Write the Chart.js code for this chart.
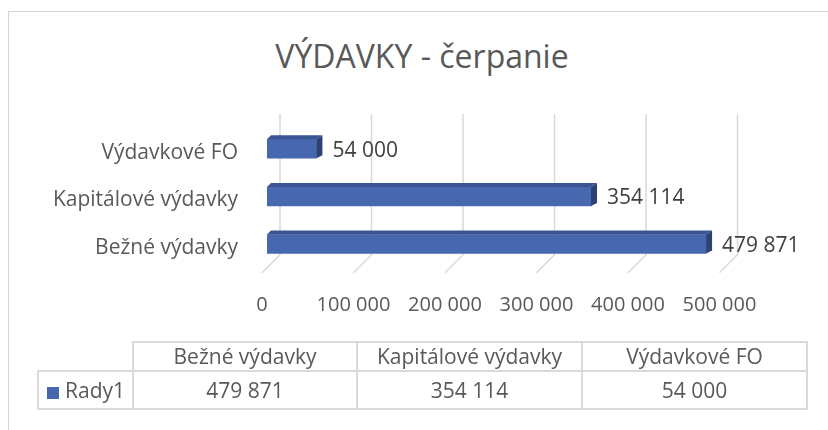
<!DOCTYPE html>
<html>
<head>
<meta charset="utf-8">
<script src="https://cdn.jsdelivr.net/npm/chart.js@4"></script>
<style>
  body { margin: 0; width: 828px; height: 430px; overflow: hidden; position: relative; background: #fff; font-family: "Open Sans", sans-serif; }
  #frame { position: absolute; left: 8px; top: 11px; width: 840px; height: 440px; border: 1px solid #d4d4d4; }
  #title { position: absolute; left: 0; width: 844px; top: 34px; text-align: center; font-size: 32px; color: #595959; line-height: 44px; }
  #chart { position: absolute; left: 0; top: 0; }
  .cell { position: absolute; box-sizing: border-box; border: 2px solid #d9d9d9; text-align: center; color: #595959; font-size: 21px; white-space: nowrap; }
  .key { display: inline-block; width: 12px; height: 12px; background: #4767AF; margin-right: 6px; vertical-align: -1px; }
</style>
</head>
<body>
<div id="frame"></div>
<div id="title"></div>
<canvas id="chart" width="828" height="430"></canvas>
<div id="table"></div>
<script>
// údaje grafu
const chartTitle = 'VÝDAVKY - čerpanie';
const categories = ['Bežné výdavky', 'Kapitálové výdavky', 'Výdavkové FO'];
const seriesName = 'Rady1';
const values = [479871, 354114, 54000];
const xTicks = [0, 100000, 200000, 300000, 400000, 500000];

const fmt = v => String(v).replace(/\B(?=(\d{3})+(?!\d))/g, ' ');

document.getElementById('title').innerText = chartTitle;

// farby
const frontColor = '#4767AF';
const topColor = '#3A5594';
const sideColor = '#2D4273';
const gridColor = '#d9d9d9';
const textColor = '#595959';

// mriezka s "podlahou" (3D)
const gridPlugin = {
    id: 'grid3d',
    beforeDatasetsDraw(chart) {
        const { ctx, chartArea, scales } = chart;
        ctx.save();
        ctx.strokeStyle = gridColor;
        ctx.lineWidth = 1.5;
        xTicks.forEach(v => {
            const xb = scales.x.getPixelForValue(v) + 13;
            ctx.beginPath();
            ctx.moveTo(xb, chartArea.top - 11);
            ctx.lineTo(xb, chartArea.bottom - 13);
            ctx.lineTo(xb - 18, chartArea.bottom + 5);
            ctx.stroke();
        });
        ctx.restore();
    }
};

// 3D stĺpce + popisky hodnôt
const barPlugin = {
    id: 'bar3d',
    afterDatasetsDraw(chart) {
        const { ctx } = chart;
        const meta = chart.getDatasetMeta(0);
        ctx.save();
        meta.data.forEach((bar, i) => {
            const { x, y, base, height } = bar.getProps(['x', 'y', 'base', 'height'], true);
            const t = y - height / 2, b = y + height / 2;
            ctx.fillStyle = topColor;
            ctx.beginPath();
            ctx.moveTo(base, t);
            ctx.lineTo(x, t);
            ctx.lineTo(x + 6, t - 4);
            ctx.lineTo(base + 4, t - 4);
            ctx.closePath();
            ctx.fill();
            ctx.fillStyle = sideColor;
            ctx.beginPath();
            ctx.moveTo(x, t);
            ctx.lineTo(x + 6, t - 4);
            ctx.lineTo(x + 6, b - 3);
            ctx.lineTo(x, b);
            ctx.closePath();
            ctx.fill();

            ctx.fillStyle = '#404040';
            ctx.font = '21px "Open Sans"';
            ctx.textAlign = 'left';
            ctx.textBaseline = 'middle';
            ctx.fillText(fmt(values[i]), x + 16, y + 2);
        });
        ctx.restore();
    }
};

new Chart(document.getElementById('chart'), {
    type: 'bar',
    data: {
        labels: categories,
        datasets: [{
            label: seriesName,
            data: values,
            backgroundColor: frontColor,
            barThickness: 19
        }]
    },
    options: {
        indexAxis: 'y',
        responsive: false,
        animation: false,
        layout: { padding: { left: 16, right: 103.5, top: 125, bottom: 112.25 } },
        plugins: {
            legend: { display: false },
            tooltip: { enabled: false }
        },
        scales: {
            x: {
                min: 0,
                max: 500000,
                afterBuildTicks: s => { s.ticks = xTicks.map(v => ({ value: v })); },
                afterFit: s => { s.height = 50; },
                grid: { display: false, drawTicks: false },
                border: { display: false },
                ticks: {
                    callback: v => fmt(v),
                    padding: 26,
                    labelOffset: -5,
                    color: textColor,
                    font: { family: 'Open Sans', size: 20 }
                }
            },
            y: {
                reverse: true,
                afterFit: s => { s.width = 251; },
                grid: { display: false, drawTicks: false },
                border: { display: false },
                ticks: {
                    padding: 29,
                    labelOffset: 4,
                    color: textColor,
                    font: { family: 'Open Sans', size: 21 }
                }
            }
        }
    },
    plugins: [gridPlugin, barPlugin]
});

// tabuľka údajov pod grafom
const colX = [133, 357, 582, 807];
const table = document.getElementById('table');
function cell(left, top, width, height, html) {
    const d = document.createElement('div');
    d.className = 'cell';
    d.style.left = (left - 1) + 'px';
    d.style.top = (top - 1) + 'px';
    d.style.width = (width + 2) + 'px';
    d.style.height = (height + 2) + 'px';
    d.style.lineHeight = (height - 2) + 'px';
    d.innerHTML = html;
    table.appendChild(d);
    return d;
}
categories.forEach((c, i) => {
    cell(colX[i], 342, colX[i + 1] - colX[i], 29, c);
    cell(colX[i], 371, colX[i + 1] - colX[i], 38, fmt(values[i]));
});
const rh = cell(38, 371, 95, 38, '<span class="key"></span>' + seriesName);
rh.style.textAlign = 'left';
rh.style.paddingLeft = '8px';
</script>
</body>
</html>
